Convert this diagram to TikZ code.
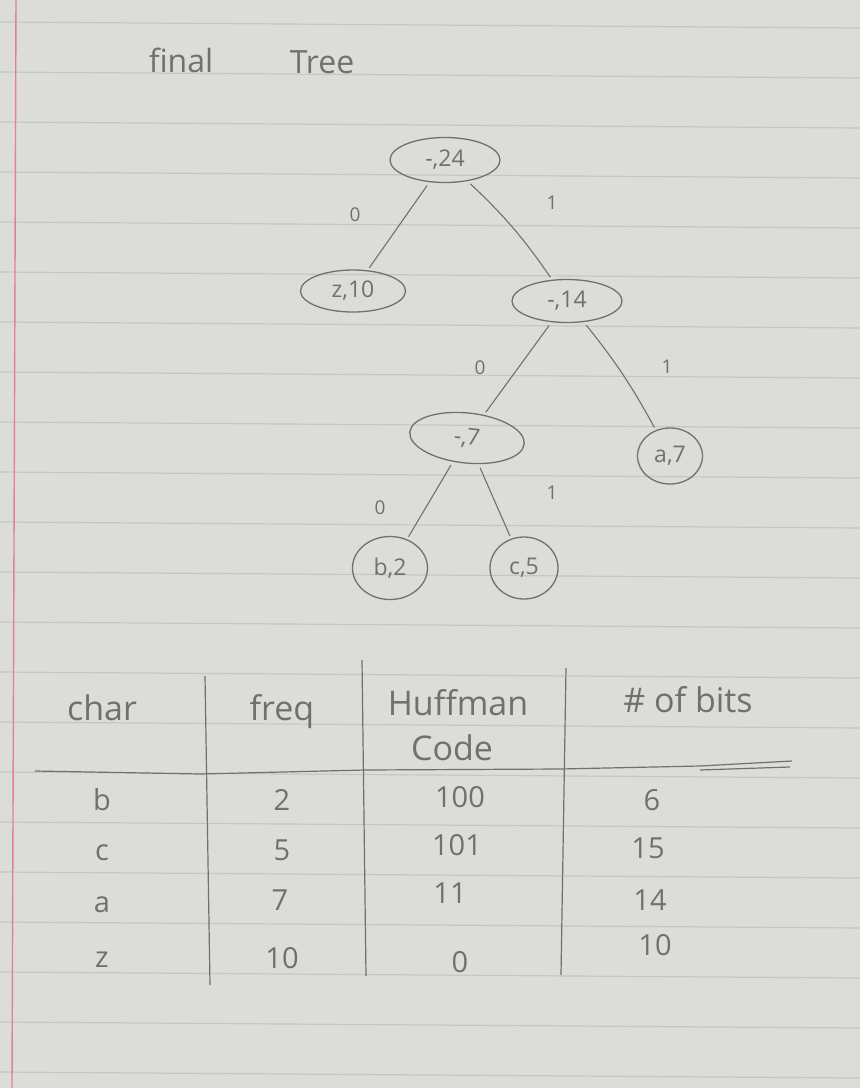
\documentclass[tikz,border=0pt]{standalone}
\usepackage{fontspec}
\setmainfont{Open Sans}
\usepackage{tikz}
\usetikzlibrary{positioning,shapes.geometric}
\definecolor{paper}{RGB}{220,221,217}
\definecolor{ruling}{RGB}{196,199,200}
\definecolor{margin}{RGB}{226,128,150}
\definecolor{pencil}{RGB}{112,112,112}
\tikzset{
  bubble/.style={ellipse, draw=pencil, line width=1.3pt, inner sep=0pt, text=pencil, font=\fontsize{23}{26}\selectfont},
  bit/.style={text=pencil, font=\fontsize{19}{22}\selectfont},
  edge/.style={draw=pencil, line width=1.1pt, shorten <=4pt, shorten >=3pt},
  head/.style={text=pencil, font=\fontsize{34}{38}\selectfont},
  cell/.style={text=pencil, font=\fontsize{29}{32}\selectfont},
  pen/.style={draw=pencil, line width=1.2pt}
}

\begin{document}
\begin{tikzpicture}[x=1pt,y=-1pt]
  \useasboundingbox (0,0) rectangle (860,1088);
  \fill[paper] (0,0) rectangle (860,1088);
  \foreach \k in {0,...,21}
    \draw[ruling, line width=1.2pt] (0,22+50*\k) -- (860,28+50*\k);
  \draw[margin, line width=1.4pt] (16,0) -- (12,1088);

  \node[text=pencil, font=\fontsize{32}{36}\selectfont] (ttlA) at (181,60) {final};
  \node[text=pencil, font=\fontsize{32}{36}\selectfont] (ttlB) at (322,62) {Tree};

  \node[bubble, minimum width=110pt, minimum height=45pt] (n24) at (445,160) {-,24};
  \node[bubble, minimum width=105pt, minimum height=42pt] (z10) at (353,291) {z,10};
  \node[bubble, minimum width=110pt, minimum height=43pt] (n14) at (567,301) {-,14};
  \node[bubble, minimum width=115pt, minimum height=50pt, rotate=-6] (n7) at (467,438) {-,7};
  \node[bubble, minimum width=65pt, minimum height=56pt] (a7) at (670,456) {a,7};
  \node[bubble, minimum width=75pt, minimum height=63pt] (b2) at (390,568) {b,2};
  \node[bubble, minimum width=68pt, minimum height=62pt] (c5) at (524,568) {c,5};

  \draw[edge] (n24) -- (z10);
  \draw[edge] (n24) to[bend left=6] (n14);
  \draw[edge] (n14) -- (n7);
  \draw[edge] (n14) to[bend left=5] (a7);
  \draw[edge] (n7) -- (b2);
  \draw[edge] (n7) -- (c5);

  \node[bit] (e1) at (355,215) {0};
  \node[bit] (e2) at (552,203) {1};
  \node[bit] (e3) at (480,368) {0};
  \node[bit] (e4) at (667,367) {1};
  \node[bit] (e5) at (380,508) {0};
  \node[bit] (e6) at (552,493) {1};

  \node[head] (hChar) at (102,708) {char};
  \node[head] (hFreq) at (282,712) {freq};
  \node[head] (hHuff) at (458,703) {Huffman};
  \node[head] (hCode) at (452,748) {Code};
  \node[head] (hBits) at (688,700) {\# of bits};

  \draw[pen] (35,771) -- (200,774) -- (365,770) -- (560,769) -- (700,766) -- (792,761);
  \draw[pen] (700,770) -- (790,767);
  \draw[pen] (205,676) -- (210,985);
  \draw[pen] (362,660) -- (366,976);
  \draw[pen] (566,668) -- (561,975);

  \node[cell] (b) at (102,800) {b};
  \node[cell] (c) at (102,853) {c};
  \node[cell] (a) at (102,905) {a};
  \node[cell] (z) at (102,960) {z};
  \node[cell] (fb) at (282,800) {2};
  \node[cell] (fc) at (282,850) {5};
  \node[cell] (fa) at (280,900) {7};
  \node[cell] (fz) at (282,958) {10};
  \node[cell] (cb) at (460,797) {100};
  \node[cell] (cc) at (457,845) {101};
  \node[cell] (ca) at (450,893) {11};
  \node[cell] (cz) at (460,962) {0};
  \node[cell] (nb) at (652,800) {6};
  \node[cell] (nc) at (648,848) {15};
  \node[cell] (na) at (650,900) {14};
  \node[cell] (nz) at (655,945) {10};
\end{tikzpicture}
\end{document}
